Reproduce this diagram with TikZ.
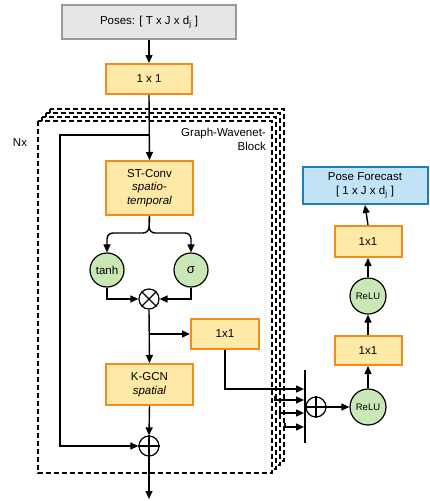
\documentclass[tikz,border=0pt]{standalone}
\usepackage{fontspec}
\setmainfont{Liberation Sans}
\usetikzlibrary{arrows.meta}
\definecolor{obord}{HTML}{F08C1E}
\definecolor{ofill}{HTML}{FFE9A6}
\definecolor{bbord}{HTML}{1A7EC0}
\definecolor{bfill}{HTML}{C3E4F6}
\definecolor{gfill}{HTML}{C9E8B5}
\definecolor{gbord}{HTML}{9A9A9A}
\definecolor{gback}{HTML}{E6E6E6}
\begin{document}
\begin{tikzpicture}[x=1pt,y=-1pt,
  font=\fontsize{11.5}{13.5}\selectfont,
  obox/.style={draw=obord,fill=ofill,line width=2pt,minimum width=#1,inner sep=1pt,align=center},
  gcirc/.style={circle,draw=black,fill=gfill,line width=1.2pt,minimum size=#1,inner sep=0pt},
  opc/.style={circle,draw=black,line width=1.2pt,minimum size=20pt,inner sep=0pt,fill=white},
  conn/.style={line width=1.4pt},
  arr/.style={conn,-{Triangle[length=8pt,width=7pt]}},
  stackbox/.style={draw,fill=white,dash pattern=on 5pt off 3pt,line width=1.4pt}]
\useasboundingbox (0,0) rectangle (429,501);
% stacked dashed blocks
\foreach \k in {3,2,1,0}{
  \draw[stackbox] (38+4*\k,121-4*\k) rectangle (272+4*\k,473-4*\k);
}
\node[anchor=center] (nx) at (20,143) {Nx};
\node[anchor=east,align=right,inner sep=0pt,font=\fontsize{11.5}{14}\selectfont] (gwb) at (266,139) {Graph-Wavenet-\\Block};
% nodes
\node[draw=gbord,fill=gback,line width=2pt,minimum width=174pt,minimum height=34pt] (poses) at (149,22) {Poses: [ T x J x d\textsubscript{j} ]};
\node[obox=86pt,minimum height=30pt] (in1) at (149,79) {1 x 1};
\node[obox=87pt,minimum height=54pt,font=\fontsize{11.5}{13.5}\selectfont] (stconv) at (149.5,188) {ST-Conv\\\textit{spatio-}\\\textit{temporal}};
\node[gcirc=34pt] (tanh) at (107,270) {tanh};
\node[gcirc=34pt,font=\fontsize{13}{14}\selectfont] (sig) at (191,270) {σ};
\node[opc] (mul) at (149,299) {};
\draw[line width=1.2pt] (mul.north west) -- (mul.south east) (mul.north east) -- (mul.south west);
\node[obox=68pt,minimum height=30pt] (mid) at (225,334) {1x1};
\node[obox=87pt,minimum height=41pt,font=\fontsize{11.5}{13.5}\selectfont] (kgcn) at (149.5,384.5) {K-GCN\\\textit{spatial}};
\node[opc] (add) at (149,446) {};
\draw[line width=1.2pt] (add.north) -- (add.south) (add.west) -- (add.east);
\coordinate (out) at (149,499);
% right column
\node[opc] (add2) at (316,407) {};
\draw[line width=1.2pt] (add2.north) -- (add2.south) (add2.west) -- (add2.east);
\node[gcirc=36pt,font=\fontsize{9.5}{10}\selectfont] (relu1) at (368,407) {ReLU};
\node[obox=67pt,minimum height=29pt] (r1) at (368,350.5) {1x1};
\node[gcirc=36pt,font=\fontsize{9.5}{10}\selectfont] (relu2) at (368,296) {ReLU};
\node[obox=67pt,minimum height=31pt] (r2) at (368,241.5) {1x1};
\node[draw=bbord,fill=bfill,line width=2pt,minimum width=125pt,minimum height=37pt,align=center,inner sep=1pt,font=\fontsize{11.5}{13.5}\selectfont] (fc) at (365,185.5) {Pose Forecast\\{}[ 1 x J x d\textsubscript{j} ]};
% bar
\coordinate (bt) at (305,370);
\coordinate (bb) at (305,443);
\draw[line width=2pt] (bt) -- (bb);
\coordinate (b1) at (304,389);
\coordinate (b2) at (304,400);
\coordinate (b3) at (304,413);
\coordinate (b4) at (304,427);
\coordinate (s2) at (275,396);
\coordinate (s3) at (280,409);
\coordinate (s4) at (285,423);
% connectors
\draw[arr] (poses) -- (in1);
\draw[arr] (in1.south) -- (stconv.north);
\coordinate (sk) at (149,135);
\coordinate (skl) at (60,135);
\draw[arr] (sk) -- (skl) |- (add.west);
\coordinate (sp) at (149,233);
\draw[arr,rounded corners=6pt] (stconv.south) -- (sp) -| (tanh.north);
\draw[arr,rounded corners=6pt] (stconv.south) -- (sp) -| (sig.north);
\draw[arr] (tanh.south) |- (mul.west);
\draw[arr] (sig.south) |- (mul.east);
\draw[arr] (mul.south) -- (kgcn.north);
\coordinate (br) at (149,334);
\draw[arr] (br) -- (mid.west);
\draw[arr] (kgcn.south) -- (add.north);
\draw[arr] (add.south) -- (out);
\draw[arr] (mid.south) |- (b1);
\draw[arr] (s2) |- (b2);
\draw[arr] (s3) |- (b3);
\draw[arr] (s4) |- (b4);
\draw[arr] (add2.east) -- (relu1.west);
\draw[arr] (relu1.north) -- (r1.south);
\draw[arr] (r1.north) -- (relu2.south);
\draw[arr] (relu2.north) -- (r2.south);
\draw[arr] (r2.north) -- (fc.south);
\end{tikzpicture}
\end{document}
